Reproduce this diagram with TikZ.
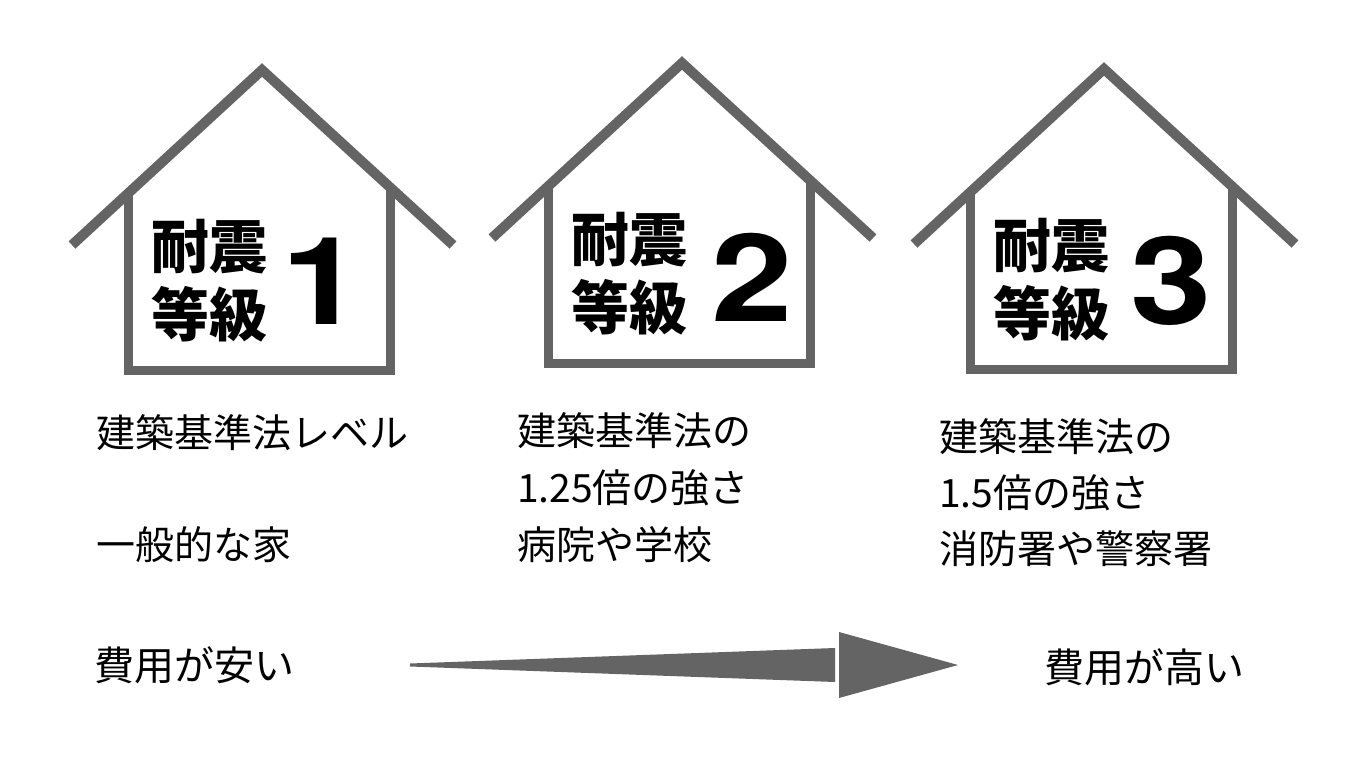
\documentclass[tikz,border=0pt]{standalone}
\usepackage{fontspec}
\usetikzlibrary{calc}
\newfontfamily\jp{Noto Sans CJK JP}
\newfontfamily\digitfont{TeX Gyre Heros}
\definecolor{hgray}{RGB}{100,100,100}
\begin{document}
\begin{tikzpicture}[x=1pt,y=-1pt,
  roofline/.style={draw=hgray,line width=10pt},
  wallline/.style={draw=hgray,line width=9pt},
  headtxt/.style={inner sep=0pt,anchor=west,font=\jp\bfseries\fontsize{58}{58}\selectfont},
  digittxt/.style={inner sep=0pt,anchor=center,xscale=1.2,font=\digitfont\bfseries\fontsize{122}{122}\selectfont},
  bodytxt/.style={inner sep=0pt,anchor=west,font=\jp\fontsize{39}{39}\selectfont},
  costtxt/.style={inner sep=0pt,anchor=west,font=\jp\fontsize{40}{40}\selectfont}]
\useasboundingbox (0,0) rectangle (1366,768);
\fill[white] (0,0) rectangle (1366,768);
% houses
\foreach \sx/\sy/\n/\dx/\dy in {0/0/1/322/281, 420/-7/2/332/284, 842/-1/3/329/282}{
  \begin{scope}[shift={(\sx,\sy)}]
    \draw[wallline] (128,195) -- (128,370);
    \draw[wallline] (390,190) -- (390,370);
    \draw[wallline] (124,370) -- (395,370);
    \draw[roofline] (72,245) -- (262,70) -- (453,245);
    \node[headtxt] (ha\n) at (151,247) {耐震};
    \node[headtxt] (hb\n) at (151,314) {等級};
    \node[digittxt] (dg\n) at (\dx,\dy) {\n};
  \end{scope}
}
% descriptions
\node[bodytxt] (a1) at (96,433) {建築基準法レベル};
\node[bodytxt] (a2) at (96,545) {一般的な家};
\node[bodytxt] (b1) at (517,431) {建築基準法の};
\node[bodytxt] (b2) at (517,488) {1.25倍の強さ};
\node[bodytxt] (b3) at (517,545) {病院や学校};
\node[bodytxt] (c1) at (939,437) {建築基準法の};
\node[bodytxt] (c2) at (939,493) {1.5倍の強さ};
\node[bodytxt] (c3) at (939,549) {消防署や警察署};
% cost
\node[costtxt] (low) at (94,665) {費用が安い};
\node[costtxt] (high) at (1044,667) {費用が高い};
% arrow
\coordinate (as) at (410,665);
\coordinate (ae) at (958,665);
\fill[hgray] ($(as)+(0,-1.5)$) -- (835,648) -- (835,682) -- ($(as)+(0,1.5)$) -- cycle;
\fill[hgray] (839,632) -- (ae) -- (839,698) -- cycle;
\end{tikzpicture}
\end{document}
